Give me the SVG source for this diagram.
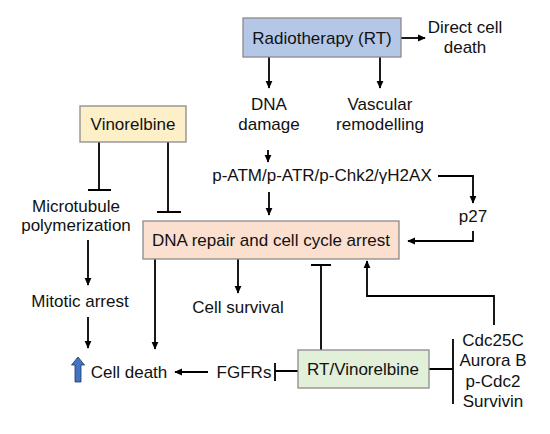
<svg xmlns="http://www.w3.org/2000/svg" width="550" height="434" viewBox="0 0 550 434">
<defs>
<marker id="ah" viewBox="0 0 10 10" refX="9" refY="5" markerWidth="4.6" markerHeight="4" orient="auto" markerUnits="strokeWidth" preserveAspectRatio="none">
<path d="M0,0 L10,5 L0,10 z" fill="#000"/>
</marker>
</defs>
<style>
text{font-family:"Liberation Sans",Arial,sans-serif;font-size:17px;fill:#111;text-anchor:middle}
.box{stroke:#8a8a8a;stroke-width:1.3}
.c{fill:none;stroke:#000;stroke-width:1.8}
.a{marker-end:url(#ah)}
</style>
<rect width="550" height="434" fill="#fff"/>
<g id="connectors">
<path class="c a" d="M401,38 H425"/>
<path class="c a" d="M269,57 V88"/>
<path class="c a" d="M380,57 V88"/>
<path class="c a" d="M268,150 V162"/>
<path class="c a" d="M269,192 V215"/>
<path class="c a" d="M438,176 H473 V203"/>
<path class="c a" d="M473,231 V241 H408"/>
<path class="c" d="M99,142 V190 M88,190 H111"/>
<path class="c" d="M168,142 V212 M157,212 H181"/>
<path class="c a" d="M88,240 V285"/>
<path class="c a" d="M88,317 V348"/>
<path class="c a" d="M155,259 V349"/>
<path class="c a" d="M238,259 V293"/>
<path class="c a" d="M208,372 H175"/>
<path class="c" d="M298,371 H275 M275,363 V381"/>
<path class="c" d="M321,350 V265 M311,265 H331"/>
<path class="c a" d="M494,325 V296 H367 V261"/>
<path class="c" d="M429,369 H453 M453,339 V404"/>
</g>
<g id="radiotherapy">
<rect class="box" x="243" y="18" width="158" height="39" fill="#b4c7e7"/>
<text x="322" y="44">Radiotherapy (RT)</text>
</g>
<g id="direct-cell-death">
<text x="465" y="33">Direct cell</text>
<text x="465" y="53">death</text>
</g>
<g id="dna-damage">
<text x="269" y="110">DNA</text>
<text x="269" y="130">damage</text>
</g>
<g id="vascular">
<text x="380" y="110">Vascular</text>
<text x="380" y="130">remodelling</text>
</g>
<g id="vinorelbine">
<rect class="box" x="80" y="106" width="106" height="36" fill="#fdf0c8"/>
<text x="133" y="130">Vinorelbine</text>
</g>
<g id="patm">
<text x="322" y="181">p-ATM/p-ATR/p-Chk2/γH2AX</text>
</g>
<g id="p27">
<text x="473" y="222">p27</text>
</g>
<g id="microtubule">
<text x="76" y="212">Microtubule</text>
<text x="76" y="231">polymerization</text>
</g>
<g id="dna-repair">
<rect class="box" x="143" y="221" width="256" height="38" fill="#fbe0d0"/>
<text x="271" y="246">DNA repair and cell cycle arrest</text>
</g>
<g id="cell-survival">
<text x="238" y="313">Cell survival</text>
</g>
<g id="mitotic-arrest">
<text x="80" y="307">Mitotic arrest</text>
</g>
<g id="cell-death">
<path d="M78,357 L84.5,365 L81,365 L81,382 L75,382 L75,365 L71.5,365 Z" fill="#4472c4" stroke="#1f3864" stroke-width="0.8"/>
<text x="129" y="378">Cell death</text>
</g>
<g id="fgfrs">
<text x="244" y="378">FGFRs</text>
</g>
<g id="rt-vinorelbine">
<rect class="box" x="298" y="350" width="131" height="38" fill="#e2efd9"/>
<text x="363" y="375">RT/Vinorelbine</text>
</g>
<g id="cdc-list">
<text x="493" y="346">Cdc25C</text>
<text x="493" y="366">Aurora B</text>
<text x="493" y="387">p-Cdc2</text>
<text x="493" y="407">Survivin</text>
</g>
</svg>
